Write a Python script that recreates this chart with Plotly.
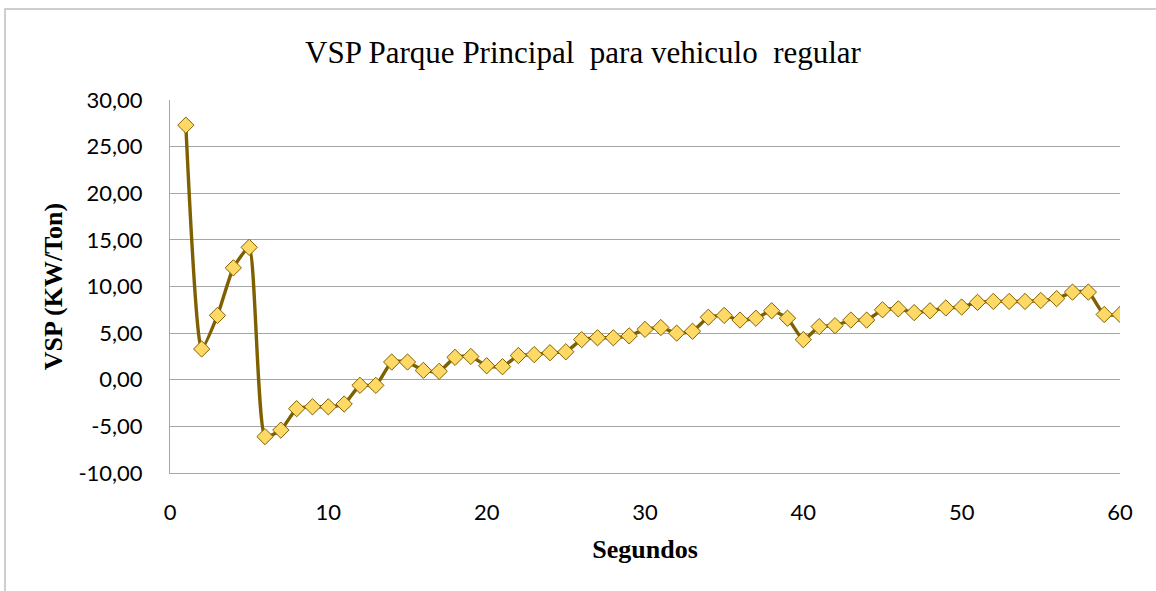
import plotly.graph_objects as go

seconds = list(range(1, 61))
vsp = [27.3, 3.3, 6.9, 12.0, 14.2, -6.1, -5.4, -3.1, -2.9, -2.9,
       -2.6, -0.6, -0.6, 1.9, 1.9, 1.0, 0.9, 2.4, 2.5, 1.5,
       1.4, 2.6, 2.7, 2.9, 3.0, 4.3, 4.5, 4.5, 4.7, 5.4,
       5.6, 5.0, 5.2, 6.7, 6.9, 6.4, 6.6, 7.4, 6.6, 4.3,
       5.7, 5.8, 6.4, 6.4, 7.5, 7.6, 7.2, 7.4, 7.7, 7.8,
       8.3, 8.4, 8.4, 8.4, 8.5, 8.7, 9.4, 9.4, 7.0, 7.0]

x_ticks = [0, 10, 20, 30, 40, 50, 60]
y_ticks = [-10, -5, 0, 5, 10, 15, 20, 25, 30]
y_tick_text = ["-10,00", "-5,00", "0,00", "5,00", "10,00", "15,00", "20,00", "25,00", "30,00"]

title_text = "VSP Parque Principal  para vehiculo  regular"
x_title = "Segundos"
y_title = "VSP (KW/Ton)"

fig = go.Figure()
fig.add_trace(go.Scatter(
    x=seconds, y=vsp, mode="lines+markers",
    line=dict(color="#7F6000", width=3.4, shape="spline", smoothing=0.5),
    marker=dict(symbol="diamond", size=12.5, color="#FFD966",
                line=dict(color="#7F6000", width=1)),
    showlegend=False,
))

grid = "#A6A6A6"
fig.update_layout(
    width=1156, height=591,
    margin=dict(l=170, r=36, t=100, b=118, autoexpand=False),
    paper_bgcolor="white", plot_bgcolor="white",
    title=dict(text=title_text, x=583 / 1156, xref="container", xanchor="center",
               y=1 - 52 / 591, yref="container", yanchor="middle",
               font=dict(family="Liberation Serif", size=31, color="black")),
    xaxis=dict(range=[0, 60], tickvals=x_ticks, ticktext=[str(v) for v in x_ticks],
               showgrid=False, zeroline=False, showline=True, linecolor=grid, linewidth=1,
               automargin=False, ticks="", ticklabelstandoff=20,
               tickfont=dict(family="Lato", size=22, color="black"),
               title=dict(text=x_title, standoff=15,
                          font=dict(family="Liberation Serif", size=26, color="black", weight="bold"))),
    yaxis=dict(range=[-10, 30], tickvals=y_ticks, ticktext=y_tick_text,
               showgrid=True, gridcolor=grid, gridwidth=1, automargin=False,
               zeroline=False, showline=True, linecolor=grid, linewidth=1,
               ticks="", ticklabelstandoff=22,
               tickfont=dict(family="Lato", size=22, color="black"),
               title=dict(text=y_title, standoff=8,
                          font=dict(family="Liberation Serif", size=26, color="black", weight="bold"))),
    shapes=[dict(type="rect", xref="paper", yref="paper",
                 x0=(5 - 170) / 950, x1=1.1, y0=-0.5, y1=(473 - 9) / 373,
                 line=dict(color="#BFBFBF", width=1.5), layer="below")],
)

fig.write_html("out.html", config={"displayModeBar": False},
               post_script="document.body.style.margin='0';document.body.style.overflow='hidden';")
